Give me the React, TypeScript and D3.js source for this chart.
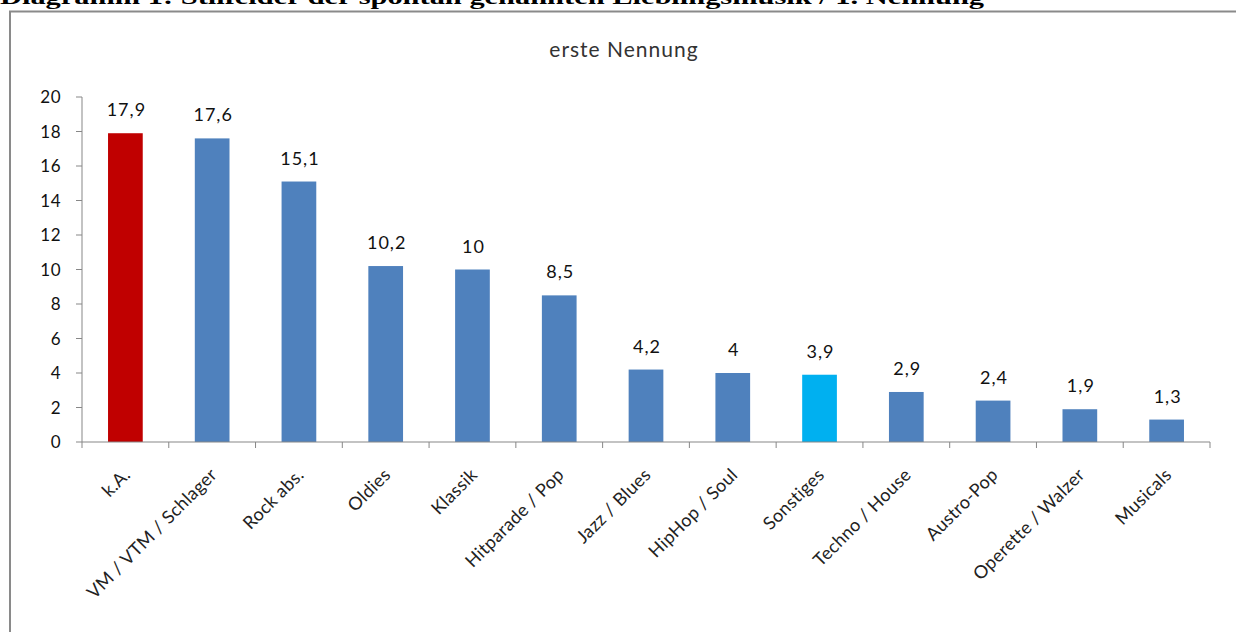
import React from "react";
import * as d3 from "d3";

const categories = [
  "k.A.",
  "VM / VTM / Schlager",
  "Rock abs.",
  "Oldies",
  "Klassik",
  "Hitparade / Pop",
  "Jazz / Blues",
  "HipHop / Soul",
  "Sonstiges",
  "Techno / House",
  "Austro-Pop",
  "Operette / Walzer",
  "Musicals",
];
const values = [17.9, 17.6, 15.1, 10.2, 10, 8.5, 4.2, 4, 3.9, 2.9, 2.4, 1.9, 1.3];
const valueLabels = ["17,9", "17,6", "15,1", "10,2", "10", "8,5", "4,2", "4", "3,9", "2,9", "2,4", "1,9", "1,3"];
const barColors = ["#C00000", "#4F81BD", "#4F81BD", "#4F81BD", "#4F81BD", "#4F81BD", "#4F81BD", "#4F81BD", "#00B0F0", "#4F81BD", "#4F81BD", "#4F81BD", "#4F81BD"];
const yTicks = [0, 2, 4, 6, 8, 10, 12, 14, 16, 18, 20];
const docTitle = "Diagramm 1: Stilfelder der spontan genannten Lieblingsmusik / 1. Nennung";
const chartTitle = "erste Nennung";

const W = 1236;
const H = 632;
const plotLeft = 82;
const plotRight = 1210;
const plotTop = 97;
const plotBottom = 442;
const font = "Lato, 'Open Sans', sans-serif";

export default function App() {
  const x = d3.scaleBand<string>().domain(categories).range([plotLeft, plotRight]).paddingInner(0.6).paddingOuter(0.3);
  const step = (plotRight - plotLeft) / categories.length;
  const y = d3.scaleLinear().domain([0, 20]).range([plotBottom, plotTop]);
  const axisColor = "#878787";

  return (
    <svg width={W} height={H} style={{ position: "absolute", left: 0, top: 0, background: "#fff" }}>
      <text x={0} y={4} fontFamily="'Liberation Serif', serif" fontWeight="bold" fontSize={22} textLength={984} lengthAdjust="spacingAndGlyphs" fill="#000">
        {docTitle}
      </text>
      <rect x={10} y={11.5} width={1240} height={640} fill="none" stroke="#8a8a8a" strokeWidth={2} />
      <text x={624} y={57} textAnchor="middle" fontFamily={font} fontSize={21} letterSpacing={1} fill="#333">
        {chartTitle}
      </text>
      {/* y axis */}
      <line x1={plotLeft} x2={plotLeft} y1={plotTop} y2={plotBottom} stroke={axisColor} />
      {yTicks.map((t) => (
        <g key={t}>
          <line x1={plotLeft - 6} x2={plotLeft} y1={y(t)} y2={y(t)} stroke={axisColor} />
          <text x={61} y={y(t) + 6} textAnchor="end" fontFamily={font} fontSize={17} letterSpacing={0.5} fill="#111">
            {t}
          </text>
        </g>
      ))}
      {/* bars */}
      {categories.map((c, i) => (
        <g key={c}>
          <rect x={x(c)} y={y(values[i])} width={x.bandwidth()} height={plotBottom - y(values[i])} fill={barColors[i]} />
          <text x={(x(c) as number) + x.bandwidth() / 2 + 1} y={y(values[i]) - 17} textAnchor="middle" fontFamily={font} fontSize={18} letterSpacing={1} fill="#111">
            {valueLabels[i]}
          </text>
        </g>
      ))}
      {/* x axis */}
      <line x1={plotLeft} x2={plotRight} y1={plotBottom} y2={plotBottom} stroke={axisColor} />
      {d3.range(categories.length + 1).map((k) => (
        <line key={k} x1={plotLeft + k * step} x2={plotLeft + k * step} y1={plotBottom} y2={plotBottom + 6} stroke={axisColor} />
      ))}
      {categories.map((c) => {
        const cx = (x(c) as number) + x.bandwidth() / 2 + 6;
        const cy = plotBottom + 34;
        return (
          <text key={c} x={cx} y={cy} textAnchor="end" transform={`rotate(-45 ${cx} ${cy})`} fontFamily={font} fontSize={18} letterSpacing={0.3} fill="#222">
            {c}
          </text>
        );
      })}
    </svg>
  );
}
